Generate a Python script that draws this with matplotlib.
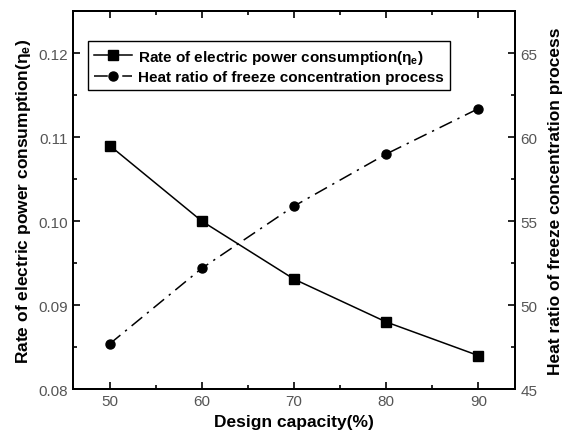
import matplotlib
matplotlib.use("Agg")
import matplotlib.pyplot as plt
from matplotlib.ticker import MultipleLocator

plt.rcParams['font.family'] = ['Liberation Sans', 'DejaVu Sans']
plt.rcParams['mathtext.fontset'] = 'custom'
plt.rcParams['mathtext.rm'] = 'Liberation Sans'
plt.rcParams['mathtext.it'] = 'Liberation Sans:bold'
plt.rcParams['mathtext.bf'] = 'Liberation Sans:bold'

# data
capacity = [50, 60, 70, 80, 90]
power_rate = [0.109, 0.100, 0.0931, 0.088, 0.084]
heat_ratio = [47.7, 52.2, 55.9, 59.0, 61.7]

fig = plt.figure(figsize=(5.65, 4.35), dpi=100)
ax = fig.add_axes([0.129, 0.103, 0.783, 0.869])
ax2 = ax.twinx()

l1, = ax.plot(capacity, power_rate, '-', color='black', lw=1.1,
              marker='s', ms=6.5, label=r'Rate of electric power consumption($\eta_e$)')
l2, = ax2.plot(capacity, heat_ratio, linestyle=(0, (9, 4, 1.5, 4)), color='black', lw=1.1,
               marker='o', ms=6.5, label='Heat ratio of freeze concentration process')

ax.set_xlim(46, 94)
ax.set_ylim(0.08, 0.125)
ax2.set_ylim(45, 67.5)

ax.xaxis.set_major_locator(MultipleLocator(10))
ax.xaxis.set_minor_locator(MultipleLocator(5))
ax.yaxis.set_major_locator(MultipleLocator(0.01))
ax.yaxis.set_minor_locator(MultipleLocator(0.005))
ax2.yaxis.set_major_locator(MultipleLocator(5))
ax2.yaxis.set_minor_locator(MultipleLocator(2.5))
ax.yaxis.set_major_formatter(plt.FormatStrFormatter('%.2f'))

ax.tick_params(which='both', direction='in', top=True, labelsize=11,
               labelcolor='#555555', width=1.2)
ax.tick_params(axis='y', which='both', right=False)
ax.tick_params(which='major', length=5)
ax.tick_params(which='minor', length=3)
ax2.tick_params(which='both', direction='in', labelsize=11, labelcolor='#555555', width=1.2)
ax2.tick_params(which='major', length=5)
ax2.tick_params(which='minor', length=3)

for a in (ax, ax2):
    for s in a.spines.values():
        s.set_linewidth(1.4)

ax.set_xlabel('Design capacity(%)', fontsize=12.5, fontweight='bold', labelpad=4)
ax.set_ylabel(r'Rate of electric power consumption($\eta_e$)', fontsize=12.5,
              fontweight='bold', labelpad=4)
ax2.set_ylabel('Heat ratio of freeze concentration process', fontsize=12.5,
               fontweight='bold', labelpad=8)

leg = ax.legend(handles=[l1, l2], loc='upper left', bbox_to_anchor=(0.034, 0.92),
                fancybox=False, edgecolor='black', framealpha=1,
                prop={'weight': 'bold', 'size': 11}, handlelength=2.5,
                handletextpad=0.4, borderpad=0.4, labelspacing=0.3,
                borderaxespad=0)
leg.get_frame().set_linewidth(1.0)

fig.savefig('out.png', dpi=100)
